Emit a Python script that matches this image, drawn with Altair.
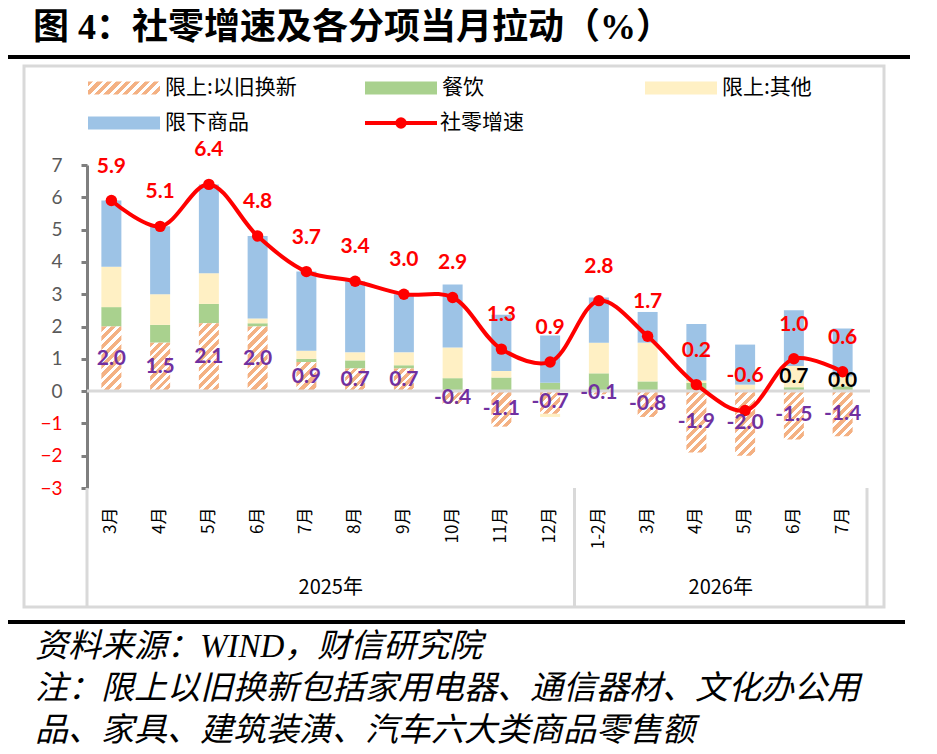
import math

import altair as alt
import pandas as pd

# ---- data ----
months = ["3月", "4月", "5月", "6月", "7月", "8月", "9月", "10月", "11月", "12月",
          "1-2月", "3月", "4月", "5月", "6月", "7月"]
years = ["2025年"] * 10 + ["2026年"] * 6
trade_in = [2.0, 1.5, 2.1, 2.0, 0.9, 0.7, 0.7, -0.4, -1.1, -0.7, -0.1, -0.8, -1.9, -2.0, -1.5, -1.4]
catering = [0.6, 0.55, 0.6, 0.1, 0.1, 0.25, 0.1, 0.4, 0.42, 0.26, 0.55, 0.3, 0.25, 0.0, 0.12, 0.15]
other_above = [1.25, 0.95, 0.95, 0.15, 0.25, 0.25, 0.4, 0.95, 0.2, -0.1, 0.95, 1.2, 0.08, 0.2, 0.66, 0.3]
below_quota = [2.05, 2.1, 2.75, 2.55, 2.45, 2.2, 1.8, 1.95, 1.74, 1.46, 1.4, 0.95, 1.75, 1.24, 1.72, 1.49]
retail_growth = [5.9, 5.1, 6.4, 4.8, 3.7, 3.4, 3.0, 2.9, 1.3, 0.9, 2.8, 1.7, 0.2, -0.6, 1.0, 0.6]
other_labels = [""] * 14 + ["0.7", "0.0"]

series_names = ["限上:以旧换新", "餐饮", "限上:其他", "限下商品"]
series_colors = ["#f4b183", "#a9d18e", "#fff0c4", "#9dc3e6"]
year_names = ["2025年", "2026年"]

title_text = "图 4：社零增速及各分项当月拉动（%）"
footer_lines = [
    "资料来源：WIND，财信研究院",
    "注：限上以旧换新包括家用电器、通信器材、文化办公用",
    "品、家具、建筑装潢、汽车六大类商品零售额",
]

W, H = 780, 323
Y_MIN, Y_MAX = -3, 7
PX_PER_UNIT = H / (Y_MAX - Y_MIN)
BAR = 20
CJK = "Noto Sans CJK SC"
SERIF = "Liberation Serif, Noto Sans CJK SC"
NUM = "Lato"
RED = "#ff0000"

keys = [f"{i:02d}_{m}" for i, m in enumerate(months)]

rows = []
for i, k in enumerate(keys):
    for order, (name, vals) in enumerate(zip(series_names, [trade_in, catering, other_above, below_quota])):
        rows.append({"key": k, "series": name, "order": order, "value": vals[i], "olabel": other_labels[i] if order == 2 else ""})
long_df = pd.DataFrame(rows)

line_df = pd.DataFrame({
    "key": keys,
    "growth": retail_growth,
    "glabel": [f"{v:.1f}" for v in retail_growth],
    "trade_in": trade_in,
    "tlabel": [f"{v:.1f}" for v in trade_in],
})


def hatch_fill(w, h, period=6.4, frac=0.55, color="#f4b183"):
    # diagonal "/" stripes built from a hard-stop linear gradient
    h = max(h, 1.0)
    n = max(1, round((w + h) / (math.sqrt(2) * period)))
    s = (w + h) / (w * w + h * h)
    stops = []
    for j in range(n):
        a, b, c = j / n, (j + frac) / n, (j + 1) / n
        stops += [
            alt.GradientStop(color=color, offset=a),
            alt.GradientStop(color=color, offset=b),
            alt.GradientStop(color="#ffffff", offset=b),
            alt.GradientStop(color="#ffffff", offset=c),
        ]
    return alt.LinearGradient(gradient="linear", stops=stops, x1=0, y1=0, x2=s * w, y2=s * h)


x_enc = alt.X(
    "key:N",
    sort=keys,
    scale=alt.Scale(paddingInner=0, paddingOuter=0),
    axis=alt.Axis(
        title=None, labelExpr="split(datum.label, '_')[1]", labelAngle=-90,
        domain=False, ticks=False, tickSize=0, labelPadding=19,
        labelFont=CJK, labelFontSize=17, labelColor="#000000",
    ),
)
y_scale = alt.Scale(domain=[Y_MIN, Y_MAX], nice=False, zero=False)
y_axis = alt.Axis(
    title=None, values=list(range(Y_MIN, Y_MAX + 1)), grid=False, format="d",
    domainColor="#7f7f7f", domainWidth=3, tickColor="#7f7f7f", tickWidth=3, tickSize=6,
    labelPadding=19, labelFont=NUM, labelFontSize=19,
    labelColor={"condition": {"test": "datum.value < 0", "value": RED}, "value": "#595959"},
)


def Y(field):
    return alt.Y(field, scale=y_scale, axis=y_axis)


one = alt.Data(values=[{}])


def static_text(txt, x, y, size, font=CJK, weight="normal", style="normal", color="#000000", align="left"):
    return alt.Chart(one).mark_text(
        align=align, baseline="middle", font=font, fontSize=size, fontWeight=weight,
        fontStyle=style, color=color,
    ).encode(x=alt.value(x), y=alt.value(y), text=alt.value(txt))


def static_rule(x, x2, y, y2, color, width):
    return alt.Chart(one).mark_rule(color=color, strokeWidth=width).encode(
        x=alt.value(x), x2=alt.value(x2), y=alt.value(y), y2=alt.value(y2)
    )


layers = []

# frame, title and rules
layers.append(
    alt.Chart(one).mark_rect(filled=False, stroke="#d9d9d9", strokeWidth=3).encode(
        x=alt.value(-63), x2=alt.value(797), y=alt.value(-99), y2=alt.value(442)
    )
)
layers.append(static_text(title_text, -54, -137, 36, font=SERIF, weight="bold"))
layers.append(static_rule(-79, 823, -108, -108, "#000000", 4))
layers.append(static_rule(-79, 818, 457, 457, "#000000", 4))
for j, line in enumerate(footer_lines):
    layers.append(static_text(line, -52, 482 + j * 42, 33, font=SERIF, style="italic"))

# legend
legend_pos = [(1, -77), (278, -77), (558, -77), (1, -42)]
for j, (lx, ly) in enumerate(legend_pos):
    fill = hatch_fill(72, 13) if j == 0 else series_colors[j]
    layers.append(
        alt.Chart(one).mark_rect(fill=fill).encode(
            x=alt.value(lx), x2=alt.value(lx + 72), y=alt.value(ly - 6.5), y2=alt.value(ly + 6.5)
        )
    )
    layers.append(static_text(series_names[j], lx + 77, ly, 21))
layers.append(static_rule(278, 350, -42, -42, RED, 4))
layers.append(alt.Chart(one).mark_circle(size=130, color=RED, opacity=1).encode(x=alt.value(314), y=alt.value(-42)))
layers.append(static_text("社零增速", 353, -42, 21))

# stacked bars
stacked = alt.Chart(long_df).transform_stack(
    stack="value", as_=["v0", "v1"], groupby=["key"],
    sort=[alt.SortField(field="order", order="ascending")],
)
layers.append(
    stacked.transform_filter("datum.order > 0").mark_bar(size=BAR).encode(
        x=x_enc, y=Y("v0:Q"), y2="v1:Q",
        color=alt.Color("series:N", scale=alt.Scale(domain=series_names[1:], range=series_colors[1:]), legend=None),
    )
)
for i, k in enumerate(keys):
    layers.append(
        stacked.transform_filter(f"datum.key == '{k}' && datum.order == 0")
        .mark_bar(size=BAR, fill=hatch_fill(BAR, abs(trade_in[i]) * PX_PER_UNIT))
        .encode(x=x_enc, y=Y("v0:Q"), y2="v1:Q")
    )

# zero line
layers.append(
    alt.Chart(one).mark_rule(color="#d9d9d9", strokeWidth=3).encode(
        y=alt.Y(datum=0, scale=y_scale, axis=y_axis), x=alt.value(0), x2=alt.value(W + 3)
    )
)

# year groups under the axis
step = W / len(keys)
for sx in [0, step * years.count(year_names[0]), W]:
    layers.append(static_rule(sx, sx, H, 442, "#d9d9d9", 3))
start = 0
for yn in year_names:
    cnt = years.count(yn)
    layers.append(static_text(yn, (start + cnt / 2) * step, 423, 20, align="center"))
    start += cnt

# growth line, points and labels
layers.append(
    alt.Chart(line_df).mark_line(color=RED, strokeWidth=4, interpolate="catmull-rom").encode(x=x_enc, y=Y("growth:Q"))
)
layers.append(
    alt.Chart(line_df).mark_circle(size=130, color=RED, opacity=1).encode(x=x_enc, y=Y("growth:Q"))
)
layers.append(
    alt.Chart(line_df).mark_text(dy=-34, font=NUM, fontSize=21, fontWeight="bold", color=RED).encode(
        x=x_enc, y=Y("growth:Q"), text="glabel:N"
    )
)
layers.append(
    alt.Chart(line_df).transform_calculate(mid="datum.trade_in / 2").mark_text(
        font=NUM, fontSize=21, fontWeight="bold", color="#7030a0"
    ).encode(x=x_enc, y=Y("mid:Q"), text="tlabel:N")
)
layers.append(
    stacked.transform_filter("datum.order == 2 && datum.olabel != ''")
    .transform_calculate(mid="(datum.v0 + datum.v1) / 2")
    .mark_text(font=NUM, fontSize=21, fontWeight="bold", color="#000000")
    .encode(x=x_enc, y=Y("mid:Q"), text="olabel:N")
)

chart = (
    alt.layer(*layers)
    .properties(
        width=W, height=H,
        padding={"left": 79, "top": 157, "right": 46, "bottom": 262},
        autosize=alt.AutoSizeParams(type="none"),
    )
    .configure_view(stroke=None)
)

chart.save("out.html", embed_options={"renderer": "svg", "actions": False})
